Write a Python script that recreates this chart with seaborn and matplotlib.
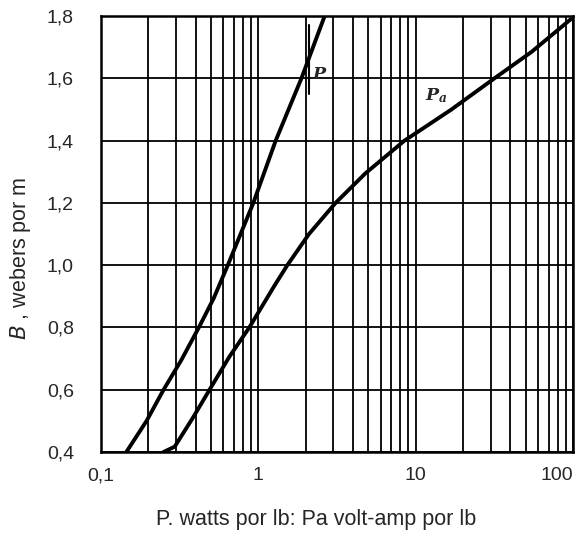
import pandas as pd
import matplotlib
matplotlib.use("Agg")
import matplotlib.pyplot as plt
import seaborn as sns

sns.set_style("white")
plt.rcParams["font.family"] = ["Liberation Sans", "DejaVu Sans"]
plt.rcParams["mathtext.fontset"] = "custom"
plt.rcParams["mathtext.it"] = "DejaVu Serif:italic:bold"

# === datos ===
p_watts = [0.145, 0.195, 0.25, 0.324, 0.419, 0.52, 0.64, 0.93, 1.29, 1.88, 2.64]
p_b = [0.40, 0.50, 0.60, 0.695, 0.80, 0.893, 1.00, 1.20, 1.40, 1.60, 1.80]

pa_va = [0.25, 0.294, 0.384, 0.49, 0.655, 0.877, 1.27, 1.53, 2.1, 3.1, 4.8, 8.5,
         12.0, 16.9, 31.7, 54.6, 97.0]
pa_b = [0.40, 0.417, 0.51, 0.60, 0.706, 0.80, 0.935, 1.00, 1.10, 1.20, 1.295, 1.40,
        1.45, 1.50, 1.60, 1.685, 1.79]

# marca vertical junto a la etiqueta P
marca_x = 2.09
marca_b = [1.55, 1.77]

y_ticks = [0.4, 0.6, 0.8, 1.0, 1.2, 1.4, 1.6, 1.8]
x_ticks = [0.1, 1, 10, 100]
x_labels = ["0,1", "1", "10", "100"]

df_p = pd.DataFrame({"x": p_watts, "B": p_b})
df_pa = pd.DataFrame({"x": pa_va, "B": pa_b})

fig = plt.figure(figsize=(5.82, 5.34), dpi=100)
ax = fig.add_axes([0.1735, 0.1536, 0.811, 0.8164])

sns.lineplot(data=df_p, x="x", y="B", color="black", lw=2.8, ax=ax)
sns.lineplot(data=df_pa, x="x", y="B", color="black", lw=2.8, ax=ax)
ax.plot([marca_x, marca_x], marca_b, color="black", lw=1.5)

ax.set_xscale("log")
ax.set_xlim(0.1, 100)
ax.set_ylim(0.4, 1.8)

ax.set_xticks(x_ticks)
ax.set_xticklabels(x_labels)
ax.set_yticks(y_ticks)
ax.set_yticklabels([f"{v:.1f}".replace(".", ",") for v in y_ticks])
ax.tick_params(axis="both", which="both", length=0, labelsize=14)
ax.tick_params(axis="x", pad=11)
ax.tick_params(axis="y", pad=19.5)
ax.get_xticklabels()[-1].set_horizontalalignment("right")

ax.grid(True, which="both", axis="x", color="black", lw=1.3)
ax.grid(True, which="major", axis="y", color="black", lw=1.3)
for s in ax.spines.values():
    s.set_color("black")
    s.set_linewidth(1.8)

ax.text(2.2, 1.615, r"$P$", fontsize=12.5, va="center", ha="left")
ax.text(11.5, 1.545, r"$P_a$", fontsize=12.5, va="center", ha="left")

ax.set_xlabel("P. watts por lb: Pa volt-amp por lb", fontsize=15.5)
ax.xaxis.set_label_coords(0.456, -0.154)
ax.xaxis.label.set_va("center")
ax.set_ylabel(r"$\mathit{B}$ , webers por m", fontsize=15.5)
ax.yaxis.set_label_coords(-0.17, 0.445)
ax.yaxis.label.set_va("center")
ax.yaxis.label.set_math_fontfamily("dejavusans")

fig.savefig("out.png", dpi=100, facecolor="white")
